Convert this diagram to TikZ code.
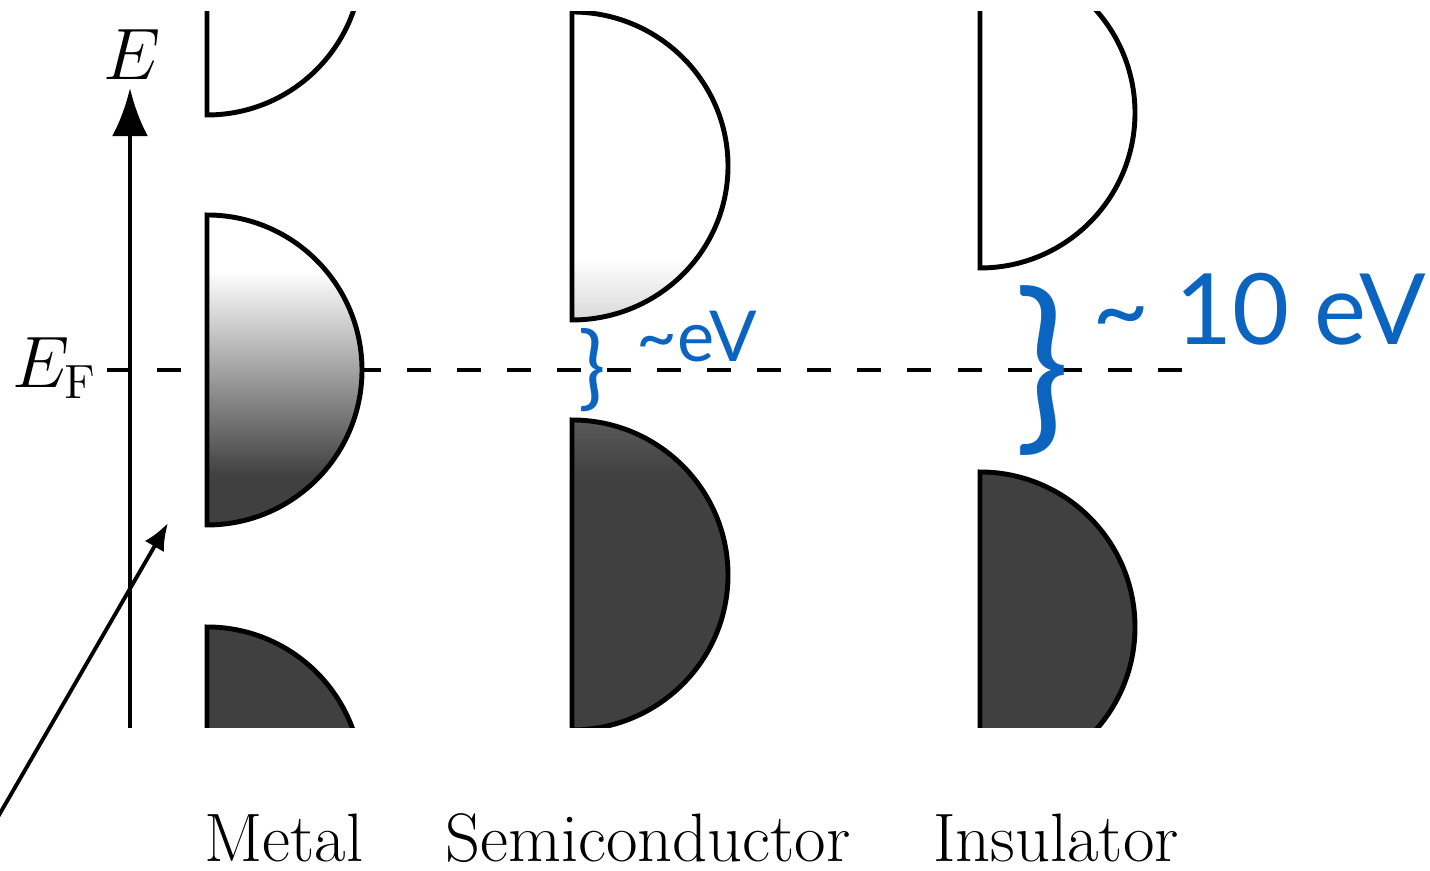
\documentclass[tikz,border=0pt]{standalone}
\usepackage{fontspec}
\newfontfamily\gapfont{Lato}
\usepackage{tikz}
\usetikzlibrary{arrows.meta}

\definecolor{bandgray}{HTML}{404040}
\definecolor{gapblue}{HTML}{0A64C0}

\pgfdeclareverticalshading{metalfill}{100bp}{color(0bp)=(bandgray); color(33bp)=(bandgray); color(66bp)=(white); color(100bp)=(white)}
\pgfdeclareverticalshading{condfill}{100bp}{color(0bp)=(black!15); color(25bp)=(black!15); color(35bp)=(white); color(100bp)=(white)}
\pgfdeclareverticalshading{valfill}{100bp}{color(0bp)=(bandgray); color(66bp)=(bandgray); color(75bp)=(black!65); color(100bp)=(black!65)}

\tikzset{
  band/.style={draw, line width=1.4pt},
  emptyband/.style={band, fill=white},
  fullband/.style={band, fill=bandgray},
  fermi/.style={line width=1.1pt, dash pattern=on 0.24cm off 0.26cm},
  matname/.style={anchor=base, inner sep=0pt, font=\fontsize{19.5}{23}\selectfont},
  gaptext/.style={text=gapblue, inner sep=0pt}
}

\begin{document}
\begin{tikzpicture}[x=0.01cm, y=0.01cm]
\useasboundingbox (0,0) rectangle (1430,871);

\coordinate (ef0) at (107,501);
\coordinate (ef1) at (1185,501);
\draw[fermi] (ef0) -- (ef1);

\begin{scope}
\clip (0,143) rectangle (1430,859);
% metal
\path[emptyband] (207,1066) arc[start angle=90, end angle=-90, x radius=155, y radius=155] -- cycle;
\path[band, shading=metalfill] (207,656) arc[start angle=90, end angle=-90, x radius=155, y radius=155] -- cycle;
\path[fullband] (207,244) arc[start angle=90, end angle=-90, x radius=155, y radius=155] -- cycle;

% semiconductor
\path[band, shading=condfill] (572,859) arc[start angle=90, end angle=-90, x radius=156, y radius=154] -- cycle;
\path[band, shading=valfill] (572,451) arc[start angle=90, end angle=-90, x radius=156, y radius=155] -- cycle;

% insulator
\path[emptyband] (980,913) arc[start angle=90, end angle=-90, x radius=155, y radius=155] -- cycle;
\path[fullband] (980,399) arc[start angle=90, end angle=-90, x radius=155, y radius=155] -- cycle;
\end{scope}

\coordinate (ax0) at (130,143);
\coordinate (ax1) at (130,783);
\draw[line width=1.4pt, -{Latex[length=0.48cm, width=0.36cm]}] (ax0) -- (ax1);
\node[anchor=base, inner sep=0pt, font=\fontsize{19.5}{23}\selectfont] (elabel) at (132,791) {$E$};
\node[anchor=base east, inner sep=0pt, font=\fontsize{19.5}{23}\selectfont] (eflabel) at (98,483) {$E_{\mathrm{F}}$};

\coordinate (ptr0) at (-5,49);
\coordinate (ptr1) at (168,348);
\draw[line width=1.1pt, -{Latex[length=0.27cm, width=0.22cm]}] (ptr0) -- (ptr1);

\node[matname] (metal) at (284,9) {Metal};
\node[matname] (semi) at (648,9) {Semiconductor};
\node[matname] (insul) at (1056,9) {Insulator};

\node[gaptext, font=\gapfont\fontsize{26}{30}\selectfont] (smallbrace) at (592,501) {\}};
\node[gaptext, anchor=base west, font=\gapfont\fontsize{20}{24}\selectfont] (smallgap) at (636,509) {\textasciitilde eV};
\node[gaptext, font=\gapfont\fontsize{53}{60}\selectfont] (bigbrace) at (1043,500) {\}};
\node[gaptext, anchor=base west, font=\gapfont\fontsize{28}{34}\selectfont] (biggap) at (1092,526) {\textasciitilde{} 10 eV};
\end{tikzpicture}
\end{document}
